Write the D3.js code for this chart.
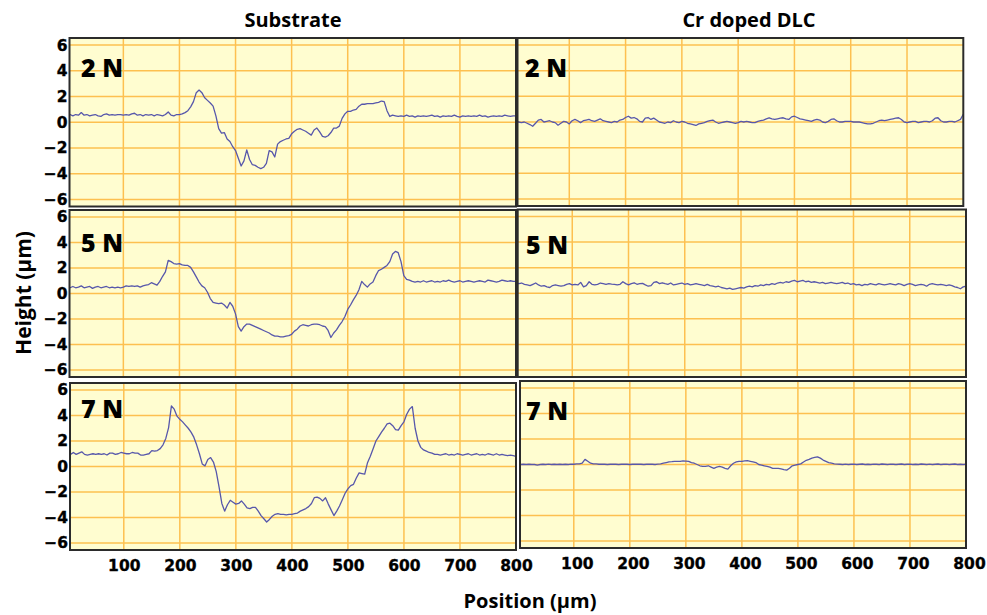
<!DOCTYPE html>
<html>
<head>
<meta charset="utf-8">
<script src="https://cdn.jsdelivr.net/npm/d3@7"></script>
<style>
  body { margin: 0; background: #ffffff; }
  text { fill: #000; }
</style>
</head>
<body>
<svg id="chart" width="987" height="615"></svg>
<script>
// Surface profiles across the scratch tracks, sampled every 5 µm from 0 to 800 µm (height in µm)
const step = 5;

const substrate2N = [
  0.55,0.6,0.5,0.6,0.55,0.75,0.55,0.6,0.5,0.55,0.6,0.5,0.45,0.6,0.65,0.55,0.6,0.55,0.6,0.6,
  0.55,0.6,0.55,0.65,0.7,0.55,0.6,0.5,0.6,0.55,0.6,0.5,0.6,0.55,0.5,0.6,0.8,0.55,0.5,0.6,
  0.6,0.65,0.75,0.9,1.2,1.6,2.3,2.5,2.3,1.9,1.7,1.5,1.25,0.5,-0.5,-0.85,-0.8,-1.3,-1.5,-1.9,
  -2.2,-2.8,-3.4,-3.0,-2.15,-2.9,-3.3,-3.35,-3.5,-3.6,-3.5,-3.2,-2.2,-2.3,-2.7,-1.7,-1.5,-1.4,-1.3,-1.25,
  -0.9,-0.7,-0.55,-0.5,-0.6,-0.7,-0.85,-1.0,-0.6,-0.45,-0.75,-1.1,-1.15,-1.05,-0.8,-0.45,-0.45,-0.3,0.3,0.65,
  0.85,0.85,0.95,1.0,1.25,1.4,1.4,1.45,1.45,1.45,1.5,1.55,1.65,1.6,0.9,0.45,0.55,0.5,0.45,0.5,
  0.45,0.55,0.45,0.5,0.4,0.5,0.45,0.5,0.45,0.5,0.55,0.45,0.5,0.4,0.5,0.45,0.5,0.45,0.55,0.45,
  0.4,0.5,0.45,0.5,0.45,0.5,0.45,0.55,0.45,0.5,0.4,0.45,0.5,0.45,0.5,0.45,0.55,0.5,0.45,0.5,
  0.5
];

const substrate5N = [
  0.5,0.45,0.55,0.45,0.5,0.6,0.45,0.5,0.55,0.4,0.5,0.55,0.45,0.5,0.55,0.45,0.5,0.45,0.5,0.45,
  0.5,0.6,0.55,0.6,0.55,0.6,0.5,0.6,0.65,0.7,0.85,0.75,0.65,0.95,1.35,1.7,2.6,2.5,2.35,2.3,
  2.35,2.25,2.2,2.2,2.05,1.7,1.3,0.9,0.6,0.45,0.1,-0.4,-0.7,-0.75,-0.8,-0.75,-0.9,-1.15,-0.7,-1.0,
  -1.6,-2.6,-2.95,-2.6,-2.4,-2.4,-2.5,-2.6,-2.7,-2.8,-2.9,-3.0,-3.1,-3.25,-3.35,-3.35,-3.4,-3.4,-3.35,-3.3,
  -3.2,-2.95,-2.8,-2.55,-2.45,-2.5,-2.55,-2.45,-2.4,-2.4,-2.45,-2.55,-2.6,-2.9,-3.45,-3.1,-2.85,-2.5,-2.2,-1.8,
  -1.25,-0.9,-0.5,-0.15,0.3,0.95,0.7,0.5,0.75,0.9,1.4,1.8,1.9,2.05,2.2,2.5,3.1,3.3,3.2,2.5,
  1.4,1.1,1.05,0.95,0.9,0.95,0.9,1.0,0.9,0.95,1.0,0.9,0.95,0.9,1.0,0.95,1.05,0.95,0.9,0.95,
  1.0,0.9,0.95,1.0,0.95,0.9,0.95,1.0,0.95,0.9,1.05,1.0,0.95,0.9,0.95,1.05,1.0,0.95,1.0,0.95,
  0.95
];

const substrate7N = [
  0.9,0.95,1.1,0.95,1.05,1.15,0.95,0.9,0.95,1.0,0.95,1.0,0.95,1.0,0.9,1.05,1.05,0.95,1.0,1.1,
  1.05,1.0,1.0,1.1,1.05,1.05,0.9,0.9,0.95,1.0,1.25,1.2,1.25,1.4,1.7,2.2,3.05,4.75,4.5,3.95,
  3.7,3.5,3.25,3.0,2.7,2.3,1.7,1.0,0.2,0.05,0.55,0.7,0.35,-0.4,-1.6,-2.9,-3.5,-3.0,-2.65,-2.8,
  -2.95,-2.9,-2.7,-2.95,-3.25,-3.3,-3.2,-3.2,-3.5,-3.85,-4.1,-4.35,-4.15,-3.9,-3.75,-3.7,-3.75,-3.75,-3.8,-3.75,
  -3.75,-3.7,-3.65,-3.5,-3.4,-3.3,-3.15,-2.9,-2.45,-2.4,-2.5,-2.7,-2.45,-2.95,-3.4,-3.85,-3.5,-3.1,-2.6,-2.1,
  -1.75,-1.5,-1.4,-0.9,-0.5,-0.55,-0.6,0.3,0.8,1.4,2.0,2.35,2.7,3.0,3.35,3.4,3.2,2.9,2.85,3.2,
  3.5,4.1,4.5,4.7,3.0,2.0,1.5,1.3,1.2,1.1,1.05,0.95,0.95,0.9,0.95,1.0,0.9,0.95,0.9,1.0,
  0.95,0.9,0.95,1.0,0.9,0.95,1.0,0.9,0.95,0.9,1.0,0.95,0.9,1.0,0.9,0.95,0.9,0.85,0.9,0.85,
  0.8
];

const dlc2N = [
  0.0,0.05,0.0,-0.05,0.0,-0.1,-0.2,-0.33,-0.1,0.15,0.2,0.0,0.05,0.1,0.0,-0.05,-0.25,-0.1,0.05,0.0,
  -0.15,0.1,0.2,0.1,-0.05,0.1,0.15,0.2,0.1,0.05,0.15,0.25,0.1,0.05,0.0,-0.05,0.05,0.0,0.15,0.2,
  0.35,0.45,0.3,0.35,0.25,0.05,0.0,0.3,0.35,0.2,0.3,0.15,0.0,-0.05,-0.1,0.0,-0.05,0.1,0.0,-0.05,
  0.05,0.0,-0.1,-0.15,-0.2,-0.27,-0.15,-0.1,-0.05,0.05,0.1,0.15,0.0,-0.1,-0.05,0.0,0.05,0.0,-0.05,-0.1,
  -0.05,0.05,0.0,0.05,0.0,-0.05,-0.05,0.05,0.1,0.15,0.25,0.33,0.25,0.2,0.25,0.3,0.33,0.25,0.2,0.4,
  0.45,0.35,0.25,0.2,0.15,0.1,0.05,0.15,0.2,0.15,0.0,-0.05,0.05,0.2,0.25,0.1,0.0,0.0,0.05,0.05,
  0.05,0.0,0.0,0.0,-0.05,-0.1,-0.15,-0.15,-0.1,0.0,0.1,0.15,0.1,0.15,0.2,0.25,0.3,0.33,0.2,0.0,
  -0.05,0.0,0.05,0.05,-0.05,0.0,0.05,0.05,0.0,0.1,0.3,0.33,0.1,0.0,0.0,0.05,0.05,0.0,0.1,0.2,
  0.6
];

const dlc5N = [
  0.8,0.75,0.8,0.7,0.65,0.6,0.7,0.8,0.65,0.55,0.6,0.5,0.45,0.6,0.65,0.6,0.55,0.6,0.7,0.75,
  0.65,0.7,0.65,0.85,0.5,0.6,0.9,0.7,0.65,0.7,0.8,0.75,0.7,0.75,0.72,0.7,0.65,0.7,0.9,0.75,
  0.65,0.75,0.82,0.7,0.75,0.77,0.65,0.55,0.6,0.85,0.9,0.75,0.82,0.75,0.7,0.8,0.65,0.7,0.75,0.8,
  0.7,0.75,0.65,0.7,0.75,0.7,0.65,0.6,0.7,0.6,0.55,0.5,0.55,0.45,0.4,0.35,0.4,0.3,0.35,0.4,
  0.45,0.4,0.5,0.55,0.5,0.6,0.55,0.65,0.6,0.7,0.65,0.75,0.7,0.8,0.85,0.8,0.9,0.85,0.95,1.0,
  0.9,0.95,1.0,0.9,0.95,0.85,0.9,0.85,0.8,0.85,0.75,0.8,0.85,0.8,0.75,0.8,0.85,0.75,0.8,0.7,
  0.75,0.65,0.7,0.6,0.7,0.65,0.75,0.7,0.65,0.75,0.7,0.65,0.7,0.75,0.7,0.65,0.75,0.7,0.6,0.7,
  0.75,0.7,0.6,0.65,0.7,0.65,0.55,0.7,0.75,0.7,0.65,0.7,0.65,0.6,0.65,0.6,0.5,0.45,0.35,0.5,
  0.55
];

const dlc7N = [
  0.0,0.0,0.02,0.0,0.02,0.0,0.0,-0.05,0.0,0.02,0.0,0.03,0.0,0.02,0.0,0.02,0.0,0.02,0.0,0.03,
  0.02,0.05,0.05,0.1,0.4,0.25,0.1,0.05,0.05,0.02,0.03,0.02,0.0,0.02,0.03,0.02,0.0,0.02,0.03,0.02,
  0.0,0.02,0.03,0.02,0.02,0.0,0.02,0.03,0.02,0.0,0.03,0.05,0.1,0.15,0.2,0.22,0.25,0.25,0.25,0.28,
  0.27,0.25,0.15,0.1,0.0,-0.1,-0.15,-0.15,-0.1,-0.2,-0.3,-0.2,-0.15,-0.2,-0.3,-0.36,-0.1,0.1,0.2,0.25,
  0.25,0.28,0.3,0.25,0.2,0.15,0.0,-0.05,-0.1,-0.15,-0.2,-0.3,-0.3,-0.3,-0.35,-0.4,-0.44,-0.3,-0.1,-0.05,
  0.0,0.05,0.2,0.33,0.4,0.5,0.55,0.6,0.5,0.35,0.25,0.15,0.1,0.05,0.03,0.02,0.0,0.03,0.0,0.02,
  0.03,0.0,0.02,0.04,0.0,0.02,0.0,0.03,0.02,0.0,0.04,0.02,0.0,0.03,0.02,0.0,0.02,0.04,0.0,0.02,
  0.03,0.0,0.02,0.0,0.04,0.02,0.0,0.03,0.0,0.02,0.04,0.0,0.02,0.03,0.0,0.02,0.04,0.0,0.02,0.0,
  0.02
];

const columnTitles = ["Substrate", "Cr doped DLC"];
const loadLabels = ["2 N", "5 N", "7 N"];
const xTicks = [100, 200, 300, 400, 500, 600, 700, 800];
const xGrid = [100, 200, 300, 400, 500, 600, 700];
const yTicks = [-6, -4, -2, 0, 2, 4, 6];
const yDomain = [-6.55, 6.55];
const xLabel = "Position (µm)";
const yLabel = "Height (µm)";

// Panel frames (pixels) and the left end of each panel's position range
const panels = [
  { data: substrate2N, load: 0, x0: 69.5, x1: 516,   y0: 38,    y1: 206.5, lo: 4, lx: 81,  ly: 77,  yAxis: true,  xAxis: false },
  { data: substrate5N, load: 1, x0: 69.5, x1: 516,   y0: 210,   y1: 377,   lo: 4, lx: 81,  ly: 252, yAxis: true,  xAxis: false },
  { data: substrate7N, load: 2, x0: 70,   x1: 516,   y0: 383,   y1: 550,   lo: 4, lx: 81,  ly: 418, yAxis: true,  xAxis: true, tickDx: 0 },
  { data: dlc2N,       load: 0, x0: 517.5,x1: 963.3, y0: 38,    y1: 206,   lo: 8, lx: 525, ly: 77,  yAxis: false, xAxis: false },
  { data: dlc5N,       load: 1, x0: 517.7,x1: 966,   y0: 209.5, y1: 377,   lo: 3, lx: 526, ly: 254, yAxis: false, xAxis: false },
  { data: dlc7N,       load: 2, x0: 520,  x1: 966,   y0: 381,   y1: 548,   lo: 4, lx: 526, ly: 420, yAxis: false, xAxis: true, tickDx: 3 }
];

const svg = d3.select("#chart");
const defs = svg.append("defs");

const colors = {
  bg: "#fffdd0",
  grid: "#fdc050",
  line: "#5757ab",
  frame: "#2b2b2b"
};

const tickFont = "'DejaVu Sans', Verdana, sans-serif";
const titleFont = "'Open Sans', 'Noto Sans', sans-serif";

function styleTicks(sel) {
  sel.selectAll("text")
    .attr("font-family", tickFont)
    .attr("font-weight", 700)
    .attr("font-size", 15.5)
    .attr("fill", "#000")
    .attr("stroke", "#000")
    .attr("stroke-width", 0.35);
}

panels.forEach((p, k) => {
  const x = d3.scaleLinear().domain([p.lo, 800]).range([p.x0, p.x1]);
  const y = d3.scaleLinear().domain(yDomain).range([p.y1, p.y0]);

  defs.append("clipPath").attr("id", "clip" + k)
    .append("rect")
    .attr("x", p.x0).attr("y", p.y0)
    .attr("width", p.x1 - p.x0).attr("height", p.y1 - p.y0);

  const g = svg.append("g");

  g.append("rect")
    .attr("x", p.x0).attr("y", p.y0)
    .attr("width", p.x1 - p.x0).attr("height", p.y1 - p.y0)
    .attr("fill", colors.bg);

  const grid = g.append("g").attr("clip-path", `url(#clip${k})`);
  grid.selectAll("line.h").data(yTicks).join("line")
    .attr("class", "h")
    .attr("x1", p.x0).attr("x2", p.x1)
    .attr("y1", d => y(d)).attr("y2", d => y(d))
    .attr("stroke", colors.grid).attr("stroke-width", 1.5);
  grid.selectAll("line.v").data(xGrid).join("line")
    .attr("class", "v")
    .attr("x1", d => x(d)).attr("x2", d => x(d))
    .attr("y1", p.y0).attr("y2", p.y1)
    .attr("stroke", colors.grid).attr("stroke-width", 1.5);

  const line = d3.line()
    .x((d, i) => x(i * step))
    .y(d => y(d))
    .curve(d3.curveLinear);

  g.append("path")
    .datum(p.data)
    .attr("clip-path", `url(#clip${k})`)
    .attr("d", line)
    .attr("fill", "none")
    .attr("stroke", colors.line)
    .attr("stroke-width", 1.3)
    .attr("stroke-linejoin", "round");

  g.append("rect")
    .attr("x", p.x0).attr("y", p.y0)
    .attr("width", p.x1 - p.x0).attr("height", p.y1 - p.y0)
    .attr("fill", "none")
    .attr("stroke", colors.frame).attr("stroke-width", 2);

  g.append("text")
    .attr("x", p.lx).attr("y", p.ly)
    .attr("font-family", titleFont)
    .attr("font-weight", 800)
    .attr("font-size", 25)
    .text(loadLabels[p.load]);

  if (p.yAxis) {
    const ax = g.append("g")
      .attr("transform", `translate(${p.x0 - 1},0)`)
      .call(d3.axisLeft(y).tickValues(yTicks).tickSize(0).tickPadding(1).tickFormat(d3.format("d")));
    ax.select(".domain").remove();
    styleTicks(ax);
  }

  if (p.xAxis) {
    const ax = g.append("g")
      .attr("transform", `translate(${p.tickDx},${p.y1})`)
      .call(d3.axisBottom(x).tickValues(xTicks).tickSize(0).tickPadding(10).tickFormat(d3.format("d")));
    ax.select(".domain").remove();
    styleTicks(ax);
  }
});

// Column headings
const headX = [293, 749];
columnTitles.forEach((t, i) => {
  svg.append("text")
    .attr("x", headX[i]).attr("y", 27)
    .attr("text-anchor", "middle")
    .attr("font-family", titleFont)
    .attr("font-weight", 700)
    .attr("font-size", 20)
    .text(t);
});

// Axis titles
svg.append("text")
  .attr("x", 530).attr("y", 608)
  .attr("text-anchor", "middle")
  .attr("font-family", titleFont)
  .attr("font-weight", 700)
  .attr("font-size", 20)
  .text(xLabel);

svg.append("text")
  .attr("transform", "translate(31,293) rotate(-90)")
  .attr("text-anchor", "middle")
  .attr("font-family", titleFont)
  .attr("font-weight", 700)
  .attr("font-size", 21)
  .text(yLabel);
</script>
</body>
</html>
